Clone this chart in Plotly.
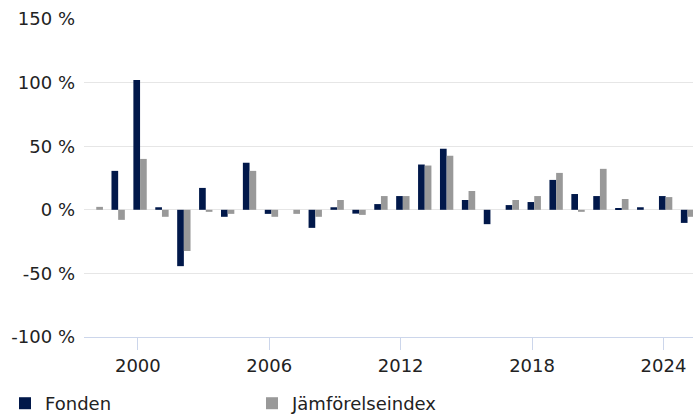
import plotly.graph_objects as go

years = list(range(1998, 2026))
fonden = [None, 30.6, 102.0, 2.0, -44.3, 17.2, -5.5, 37.0, -3.2, None, -14.2, 2.0, -3.0, 4.5,
          10.8, 35.6, 48.0, 7.7, -11.3, 3.7, 6.1, 23.5, 12.4, 10.8, 1.3, 2.0, 10.8, -10.3]
index = [2.3, -7.9, 40.0, -5.5, -32.4, -1.6, -3.2, 30.6, -5.5, -3.2, -5.5, 7.7, -4.0, 10.8,
         10.8, 34.8, 42.5, 14.8, None, 7.7, 10.8, 29.0, -1.6, 32.2, 8.5, None, 10.0, -5.5]
tick_years = [2000, 2006, 2012, 2018, 2024]
y_ticks = [-100, -50, 0, 50, 100, 150]

FONT = "DejaVu Sans"
fig = go.Figure()
fig.add_trace(go.Bar(x=years, y=fonden, name="Fonden", marker=dict(color="#01184a", line=dict(width=0))))
fig.add_trace(go.Bar(x=years, y=index, name="Jämförelseindex", marker=dict(color="#999999", line=dict(width=0))))

fig.update_layout(
    width=693, height=414,
    margin=dict(l=84, r=0, t=19, b=77, autoexpand=False),
    plot_bgcolor="white", paper_bgcolor="white",
    barmode="group", bargap=0.39, bargroupgap=0,
    font=dict(family=FONT, size=18, color="#222222"),
    showlegend=True,
    legend=dict(orientation="h", x=-0.1297, xanchor="left", y=-0.151, yanchor="top",
                font=dict(family=FONT, size=18, color="#222222"),
                entrywidthmode="pixels", entrywidth=202,
                itemclick=False, tracegroupgap=0, bgcolor="rgba(0,0,0,0)"),
    xaxis=dict(range=[1997.44, 2025.25], tickmode="array", automargin=False,
               tickvals=[y - 0.1 for y in tick_years], ticktext=[str(y) for y in tick_years],
               showgrid=False, zeroline=False, showline=True, linecolor="#ccd6eb", linewidth=1,
               ticks="outside", ticklen=12, tickcolor="#ccd6eb", tickwidth=1,
               tickfont=dict(family=FONT, size=18, color="#222222")),
    yaxis=dict(range=[-100, 150], tickmode="array", tickvals=y_ticks, automargin=False,
               ticktext=[f"{v} %" for v in y_ticks],
               showgrid=True, gridcolor="#e6e6e6", gridwidth=1,
               zeroline=True, zerolinecolor="#e6e6e6", zerolinewidth=1,
               showline=False, ticks="", ticklabelstandoff=8,
               tickfont=dict(family=FONT, size=18, color="#222222")),
)

fig.write_html("out.html", config={"displayModeBar": False},
               post_script="document.body.style.margin='0';document.body.style.padding='0';")
